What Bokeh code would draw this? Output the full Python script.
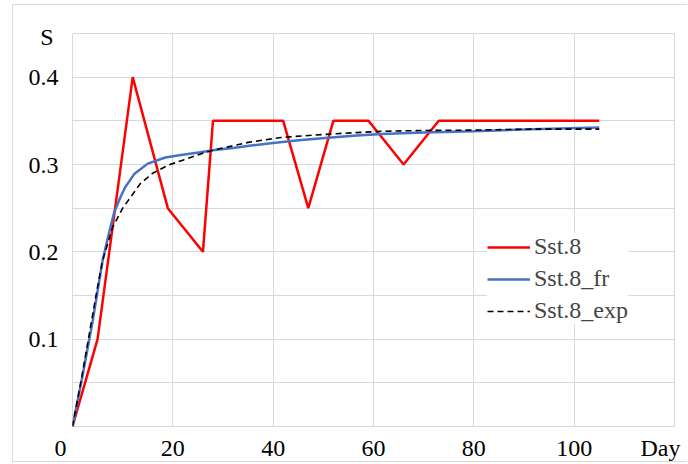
from bokeh.plotting import figure
from bokeh.models import (FixedTicker, Legend, LegendItem, Range1d, CustomJSTickFormatter)
from bokeh.embed import file_html
from bokeh.resources import INLINE

# ---------------- data ----------------
days_sst = [0, 5, 12, 19, 26, 28, 35, 42, 47, 52, 59, 66, 73, 80, 87, 94, 101, 105]
sst = [0, 0.10, 0.40, 0.25, 0.20, 0.35, 0.35, 0.35, 0.25, 0.35, 0.35, 0.30, 0.35,
       0.35, 0.35, 0.35, 0.35, 0.35]

days_fr = [0, 2, 4, 5, 6, 7, 8.3, 9.5, 10.5, 12.3, 15, 18.5, 21.6, 25.5, 28.3, 32, 36,
           40, 45.6, 51.6, 56, 61.6, 70, 80, 91.6, 105]
sst_fr = [0, 0.058, 0.12, 0.155, 0.19, 0.215, 0.245, 0.262, 0.274, 0.289, 0.301, 0.308,
          0.311, 0.314, 0.3167, 0.319, 0.322, 0.3247, 0.328, 0.331, 0.333, 0.335, 0.3365,
          0.338, 0.3405, 0.3424]

days_exp = [0, 1.8, 3.5, 5, 6, 8, 10, 12, 13.5, 16, 19, 22, 26, 28.3, 35, 41.6, 51.6,
            61.6, 70, 80, 91.6, 105]
sst_exp = [0, 0.055, 0.111, 0.16, 0.19, 0.228, 0.25, 0.266, 0.278, 0.29, 0.299, 0.305,
           0.313, 0.3167, 0.3253, 0.331, 0.335, 0.338, 0.339, 0.3394, 0.3405, 0.3405]

x_grid = [0, 20, 40, 60, 80, 100]
y_ticks = [0.1, 0.2, 0.3, 0.4]
y_minor = [0.05, 0.15, 0.25, 0.35]
x_name, x_name_pos = "Day", 117.2
y_name, y_name_pos = "S", 0.4455

FONT = "Liberation Serif"
GRID = "#d9d9d9"

p = figure(width=675, height=458, output_backend="svg", toolbar_location=None,
           x_range=Range1d(0, 120), y_range=Range1d(0, 0.45),
           min_border_left=59, min_border_right=14, min_border_top=28,
           min_border_bottom=34)
p.margin = (4, 0, 0, 12)
p.styles = {"border-left": "1px solid #d9d9d9", "border-top": "1px solid #d9d9d9",
            "border-bottom": "1px solid #d9d9d9"}
p.background_fill_color = "white"
p.border_fill_color = "white"
p.outline_line_color = GRID
p.outline_line_width = 1

# axes (axis names are drawn as extra tick labels, like the original)
p.xaxis.ticker = FixedTicker(ticks=x_grid + [x_name_pos])
p.yaxis.ticker = FixedTicker(ticks=y_ticks + [y_name_pos])
p.xaxis.formatter = CustomJSTickFormatter(
    args=dict(name=x_name, pos=x_name_pos),
    code="if (tick == pos) return name; if (tick == 0) return '0\u2007\u2007'; return tick.toFixed(0);")
p.yaxis.formatter = CustomJSTickFormatter(
    args=dict(name=y_name, pos=y_name_pos),
    code="if (tick == pos) return name + '\u2009'; return tick.toFixed(1);")
for ax in (p.xaxis[0], p.yaxis[0]):
    ax.axis_line_color = None
    ax.major_tick_line_color = None
    ax.minor_tick_line_color = None
    ax.major_label_text_font = FONT
    ax.major_label_text_font_size = "24px"
    ax.major_label_text_color = "black"
p.xaxis.major_label_standoff = 2
p.yaxis.major_label_standoff = 8

p.xgrid.grid_line_color = GRID
p.xgrid.ticker = FixedTicker(ticks=x_grid)
p.ygrid.grid_line_color = GRID
p.ygrid.minor_grid_line_color = GRID
p.ygrid.ticker = FixedTicker(ticks=y_ticks, minor_ticks=y_minor)

# lines
r_sst = p.line(days_sst, sst, line_color="#ff0000", line_width=2.5)
r_fr = p.line(days_fr, sst_fr, line_color="#4472c4", line_width=2.5)
r_exp = p.line(days_exp, sst_exp, line_color="black", line_width=1.6, line_dash="6 4")

legend = Legend(items=[LegendItem(label="Sst.8", renderers=[r_sst]),
                       LegendItem(label="Sst.8_fr", renderers=[r_fr]),
                       LegendItem(label="Sst.8_exp", renderers=[r_exp])],
                location=(415, 102), label_text_font=FONT, label_text_font_size="24px",
                glyph_width=43, glyph_height=20, label_height=20, spacing=5,
                padding=8, label_standoff=4, border_line_color=None,
                background_fill_color="white", background_fill_alpha=1.0, margin=0)
p.add_layout(legend, "center")

open("out.html", "w").write(file_html(p, INLINE))
